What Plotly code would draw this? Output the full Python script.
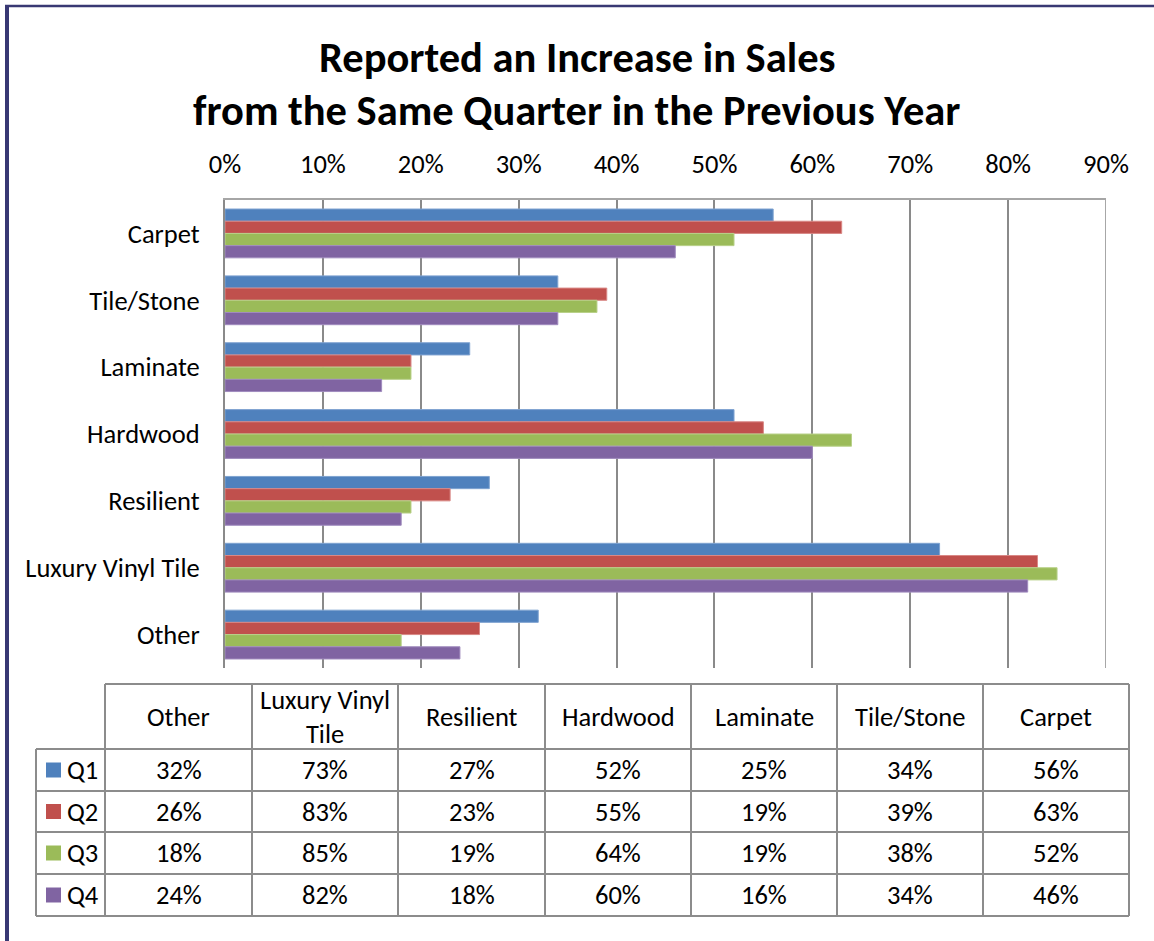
import plotly.graph_objects as go

# Share of respondents reporting higher sales vs. the same quarter a year earlier (%)
categories = ["Carpet", "Tile/Stone", "Laminate", "Hardwood", "Resilient",
              "Luxury Vinyl Tile", "Other"]
quarters = ["Q1", "Q2", "Q3", "Q4"]
q1 = [56, 34, 25, 52, 27, 73, 32]
q2 = [63, 39, 19, 55, 23, 83, 26]
q3 = [52, 38, 19, 64, 19, 85, 18]
q4 = [46, 34, 16, 60, 18, 82, 24]
series = [q1, q2, q3, q4]
colors = ["#4F81BD", "#C0504D", "#9BBB59", "#8064A2"]
edge_colors = ["#7FA3D1", "#D98886", "#B9D18A", "#A08BBE"]
x_ticks = list(range(0, 100, 10))

# Data-table column order (bottom category first), with a wrapped header label
table_cols = list(reversed(categories))
table_headers = ["Luxury Vinyl<br>Tile" if c == "Luxury Vinyl Tile" else c for c in table_cols]

W, H = 1154, 941
FONT = "Calibri, Carlito, Lato, sans-serif"
FS = 26.5
GRID = "#8A8A8A"


def px(x):
    return x / W


def py(y):
    return 1 - y / H


fig = go.Figure()
for name, vals, col, edge in zip(quarters, series, colors, edge_colors):
    fig.add_trace(go.Bar(
        y=categories, x=vals, name=name, orientation="h",
        marker=dict(color=col, line=dict(color=edge, width=1)),
        showlegend=False,
    ))

fig.update_layout(
    width=W, height=H, autosize=False,
    margin=dict(l=0, r=0, t=0, b=0, pad=0),
    paper_bgcolor="white", plot_bgcolor="white",
    barmode="group", bargap=0.27, bargroupgap=0,
    font=dict(family=FONT, size=FS, color="#000000"),
    xaxis=dict(
        domain=[px(225), px(1106)], range=[0, 90], side="top",
        tickmode="array", tickvals=x_ticks, ticktext=[f"{t}%" for t in x_ticks],
        showgrid=True, gridcolor=GRID, gridwidth=1.5,
        showline=True, linecolor="#A6A6A6", linewidth=2,
        ticks="", zeroline=False, ticklabelstandoff=14, automargin=False,
        tickfont=dict(family=FONT, size=FS),
    ),
    yaxis=dict(
        domain=[py(668), py(200)], autorange="reversed",
        categoryorder="array", categoryarray=categories,
        showline=True, linecolor=GRID, linewidth=2,
        ticks="", showgrid=False, ticklabelstandoff=18, automargin=False,
        tickfont=dict(family=FONT, size=FS),
    ),
)

shapes = []
annotations = []


def label(text, x, y, size=FS, xanchor="center"):
    annotations.append(dict(text=text, x=px(x), y=py(y), xref="paper", yref="paper",
                            xanchor=xanchor, yanchor="middle", showarrow=False,
                            font=dict(family=FONT, size=size, color="black")))


# Title
label("<b>Reported an Increase in Sales</b>", 577, 58, size=42.5)
label("<b>from the Same Quarter in the Previous Year</b>", 576, 110, size=42.5)

# Gridline on the right edge of the value axis (plotly hides it at the range boundary)
shapes.append(dict(type="line", xref="x", yref="paper", x0=x_ticks[-1], x1=x_ticks[-1],
                   y0=py(668), y1=py(200), line=dict(color=GRID, width=1.5)))

# Outer frame (left and top edges)
shapes.append(dict(type="line", xref="paper", yref="paper", x0=px(7), x1=px(7), y0=0, y1=py(5),
                   line=dict(color="#383873", width=4)))
shapes.append(dict(type="line", xref="paper", yref="paper", x0=px(5), x1=1, y0=py(6), y1=py(6),
                   line=dict(color="#383873", width=2.5)))

# Data table grid
LINE = dict(color="#8C8C8C", width=2)
col_x = [105, 252, 398, 545, 691, 837, 983, 1129]
row_y = [684, 749, 791, 832, 874, 916]
leg_x = 36
for i, yv in enumerate(row_y):
    x_start = 105 if i == 0 else leg_x
    shapes.append(dict(type="line", xref="paper", yref="paper", x0=px(x_start), x1=px(col_x[-1]),
                       y0=py(yv), y1=py(yv), line=LINE))
shapes.append(dict(type="line", xref="paper", yref="paper", x0=px(leg_x), x1=px(leg_x),
                   y0=py(row_y[1]), y1=py(row_y[-1]), line=LINE))
for xv in col_x:
    shapes.append(dict(type="line", xref="paper", yref="paper", x0=px(xv), x1=px(xv),
                       y0=py(row_y[0]), y1=py(row_y[-1]), line=LINE))

# Column headers
for j, head in enumerate(table_headers):
    label(head, (col_x[j] + col_x[j + 1]) / 2, (row_y[0] + row_y[1]) / 2)

# Rows: legend key + values
for i, (name, vals, col) in enumerate(zip(quarters, series, colors)):
    cy = (row_y[i + 1] + row_y[i + 2]) / 2
    shapes.append(dict(type="rect", xref="paper", yref="paper",
                       x0=px(46), x1=px(61), y0=py(cy - 7.5), y1=py(cy + 7.5),
                       fillcolor=col, line=dict(width=0)))
    label(name, 65, cy, xanchor="left")
    for j, v in enumerate(reversed(vals)):
        label(f"{v}%", (col_x[j] + col_x[j + 1]) / 2, cy)

fig.update_layout(shapes=shapes, annotations=annotations)
fig.write_html("out.html")
